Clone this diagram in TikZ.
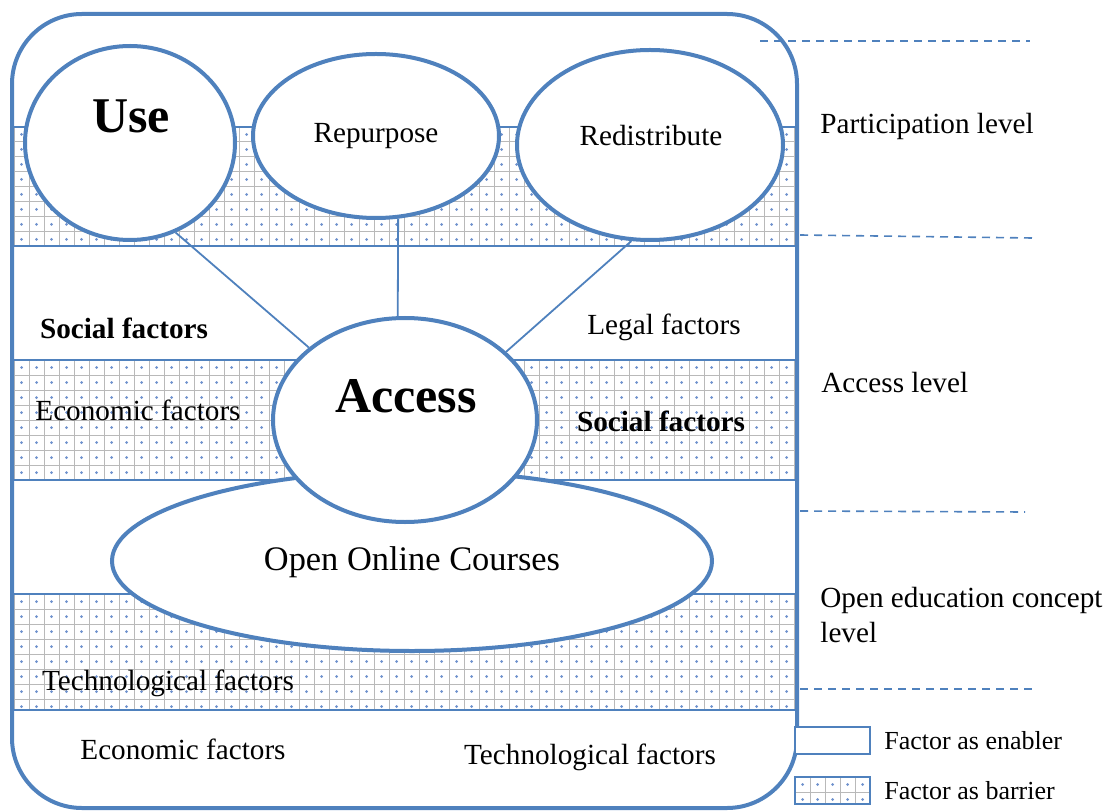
\documentclass[tikz,border=0pt]{standalone}
\usepackage{fontspec}
\setmainfont{Liberation Serif}
\usetikzlibrary{shapes.geometric}
\definecolor{oerblue}{RGB}{79,129,189}
\definecolor{gridgray}{RGB}{185,185,185}
\definecolor{dotblue}{RGB}{110,145,205}
\tikzset{
  bubble/.style={ellipse, draw=oerblue, line width=2pt, fill=white, inner sep=0pt},
  link/.style={draw=oerblue, line width=0.9pt},
  gridline/.style={draw=gridgray, line width=0.5pt},
  bandline/.style={draw=oerblue, line width=0.7pt},
  levelsep/.style={draw=oerblue, line width=0.8pt, dash pattern=on 4pt off 3pt},
  label/.style={font=\fontsize{14.6}{17.5}\selectfont, inner sep=0pt},
  boldlabel/.style={font=\fontsize{14.6}{17.5}\selectfont\bfseries, inner sep=0pt},
  legendlabel/.style={font=\fontsize{13}{16}\selectfont, inner sep=0pt},
  legendbox/.style={draw=oerblue, line width=1pt, minimum width=37.5pt, minimum height=13.5pt, inner sep=0pt}
}
% grey grid with a blue dot in every cell
\newcommand{\barrierband}[4]{%
  \begin{scope}
    \clip (#1,#2) rectangle (#3,#4);
    \fill[white] (#1,#2) rectangle (#3,#4);
    \foreach \i in {0,...,53}{\draw[gridline] (#1+15*\i,#2) -- (#1+15*\i,#4);}
    \foreach \j in {0,...,8}{
      \draw[gridline] (#1,#2+15*\j) -- (#3,#2+15*\j);
      \foreach \i in {0,...,52}{\fill[dotblue] (#1+7.5+15*\i,#2+7.5+15*\j) circle (0.75pt);}
    }
  \end{scope}}
\begin{document}
\begin{tikzpicture}[x=0.5pt,y=-0.5pt]
\useasboundingbox (0,0) rectangle (1107,812);

% barrier bands
\barrierband{14}{127}{795}{246}
\barrierband{14}{360}{795}{480}
\barrierband{14}{594}{795}{710}
\draw[bandline] (14,127) -- (795,127) (14,246) -- (795,246);
\draw[bandline] (14,360) -- (795,360) (14,480) -- (795,480);
\draw[bandline] (14,594) -- (795,594) (14,710) -- (795,710);

% concepts
\node[bubble, minimum width=300pt, minimum height=90pt] (ooc) at (412,561) {};
\node[font=\fontsize{17.2}{20}\selectfont] (ooctext) at (412,562) {Open Online Courses};
\node[bubble, minimum width=132pt, minimum height=102pt] (access) at (405,420) {};
\node[font=\fontsize{25}{30}\selectfont\bfseries] (accesstext) at (406,396) {Access};
\node[bubble, minimum width=105pt, minimum height=97pt] (use) at (130,143) {};
\node[font=\fontsize{25}{30}\selectfont\bfseries] (usetext) at (131,116) {Use};
\node[bubble, minimum width=123pt, minimum height=82pt] (repurpose) at (376,136) {};
\node[label] (repurposetext) at (376,136) {Repurpose};
\node[bubble, minimum width=133pt, minimum height=95pt] (redistribute) at (650,145) {};
\node[label] (redistributetext) at (651,136) {Redistribute};

\draw[link] (use.-63) -- (access.143);
\draw[link] (repurpose.-75) -- (access.94);
\draw[link] (redistribute.-101) -- (access.34);

% factors
\node[boldlabel] (socialA) at (124,328) {Social factors};
\node[label] (legal) at (664,327) {Legal factors};
\node[label] (economicA) at (138,410) {Economic factors};
\node[boldlabel] (socialB) at (661,421) {Social factors};
\node[label] (techA) at (168,683) {Technological factors};
\node[label] (economicB) at (183,749) {Economic factors};
\node[label] (techB) at (590,757) {Technological factors};

% outer frame
\draw[oerblue, line width=2pt, rounded corners=35pt] (12,14) rectangle (797,808);

% levels
\draw[levelsep] (760,41) -- (1030,41);
\draw[levelsep] (800,235) -- (1032,238);
\draw[levelsep] (800,511) -- (1025,512);
\draw[levelsep] (800,689) -- (1032,689);
\node[label, anchor=west] (participation) at (820,126) {Participation level};
\node[label, anchor=west] (accesslevel) at (821,383) {Access level};
\node[label, anchor=west, align=left] (conceptlevel) at (820,615) {Open education concept\\level};

% legend
\node[legendbox, fill=white] (enabler) at (832,740) {};
\node[legendlabel, anchor=west] (enablertext) at (884,741) {Factor as enabler};
\barrierband{795}{777}{870}{804}
\node[legendbox] (barrier) at (832,790) {};
\node[legendlabel, anchor=west] (barriertext) at (884,791) {Factor as barrier};
\end{tikzpicture}
\end{document}
